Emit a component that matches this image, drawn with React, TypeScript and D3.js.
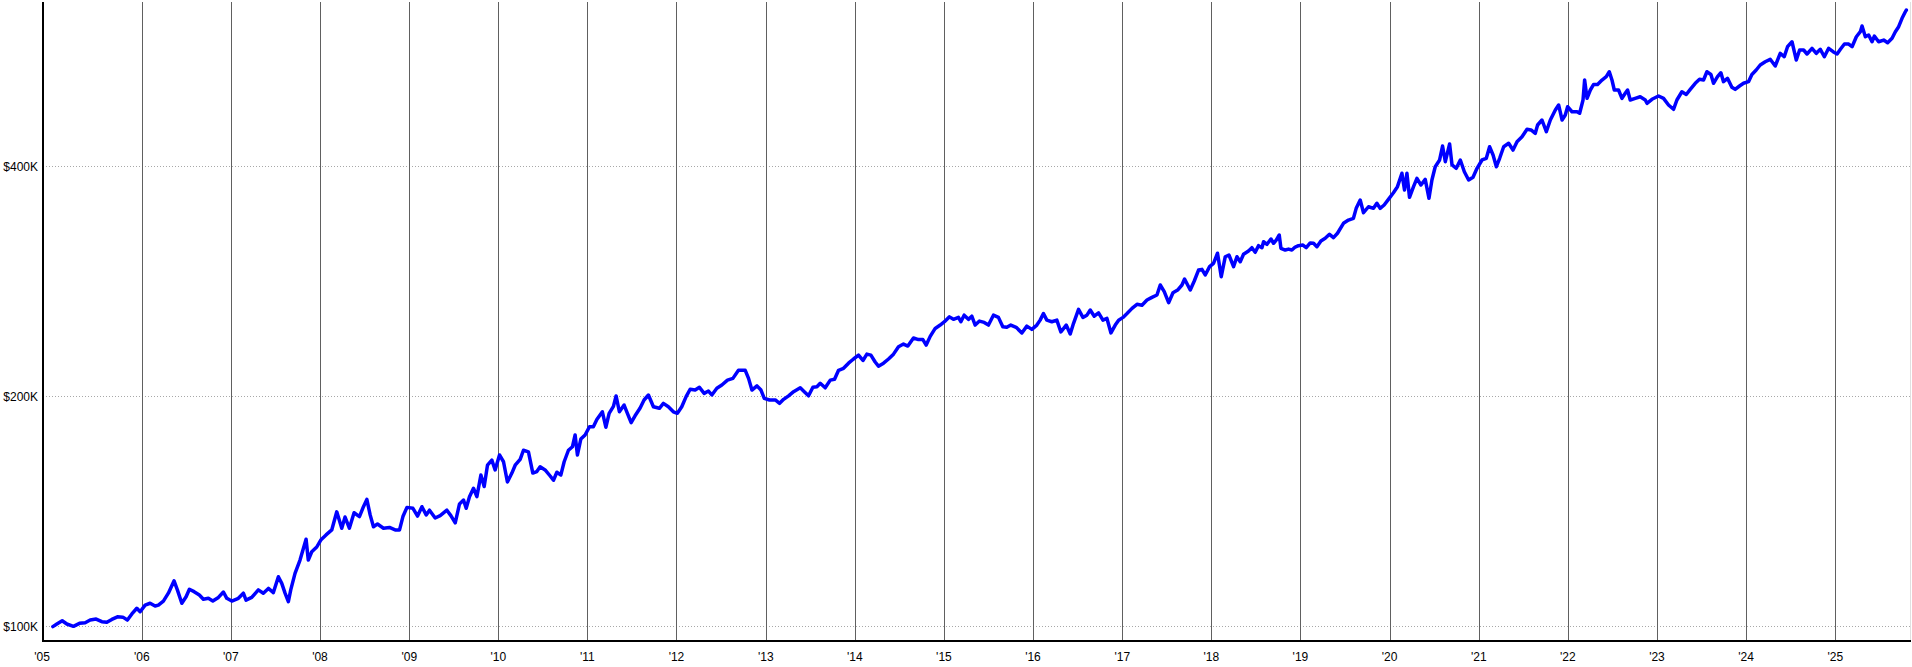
import React from "react";
import * as d3 from "d3";

// Portfolio value over time (decimal years) and value in $K
const decimalYears: number[] = [
  2005.001, 2005.046, 2005.106, 2005.158, 2005.232, 2005.3, 2005.364, 2005.42, 2005.487, 2005.551,
  2005.607, 2005.663, 2005.726, 2005.787, 2005.838, 2005.888, 2005.944, 2005.981, 2006.037, 2006.093,
  2006.149, 2006.186, 2006.242, 2006.298, 2006.362, 2006.399, 2006.449, 2006.497, 2006.534, 2006.587,
  2006.646, 2006.691, 2006.747, 2006.797, 2006.86, 2006.916, 2006.954, 2007.01, 2007.084, 2007.14,
  2007.17, 2007.234, 2007.308, 2007.364, 2007.421, 2007.477, 2007.533, 2007.571, 2007.608, 2007.645,
  2007.672, 2007.72, 2007.776, 2007.844, 2007.869, 2007.908, 2007.964, 2008.009, 2008.068, 2008.132,
  2008.188, 2008.244, 2008.281, 2008.329, 2008.382, 2008.442, 2008.487, 2008.525, 2008.562, 2008.599,
  2008.644, 2008.711, 2008.778, 2008.842, 2008.891, 2008.929, 2008.974, 2009.041, 2009.093, 2009.142,
  2009.19, 2009.227, 2009.291, 2009.347, 2009.422, 2009.467, 2009.516, 2009.564, 2009.609, 2009.639,
  2009.676, 2009.721, 2009.759, 2009.804, 2009.841, 2009.878, 2009.927, 2009.964, 2010.013, 2010.058,
  2010.102, 2010.152, 2010.189, 2010.245, 2010.282, 2010.338, 2010.387, 2010.432, 2010.469, 2010.525,
  2010.582, 2010.619, 2010.657, 2010.702, 2010.739, 2010.787, 2010.832, 2010.862, 2010.888, 2010.926,
  2010.974, 2011.023, 2011.067, 2011.106, 2011.168, 2011.207, 2011.244, 2011.292, 2011.322, 2011.359,
  2011.412, 2011.449, 2011.491, 2011.535, 2011.592, 2011.636, 2011.685, 2011.741, 2011.808, 2011.853,
  2011.909, 2011.965, 2012.01, 2012.059, 2012.108, 2012.153, 2012.209, 2012.257, 2012.31, 2012.358,
  2012.396, 2012.452, 2012.508, 2012.571, 2012.632, 2012.694, 2012.77, 2012.807, 2012.845, 2012.901,
  2012.946, 2012.983, 2013.042, 2013.107, 2013.155, 2013.2, 2013.256, 2013.312, 2013.387, 2013.432,
  2013.48, 2013.529, 2013.574, 2013.611, 2013.667, 2013.724, 2013.772, 2013.817, 2013.873, 2013.929,
  2013.985, 2014.041, 2014.091, 2014.135, 2014.18, 2014.228, 2014.265, 2014.322, 2014.378, 2014.434,
  2014.49, 2014.546, 2014.595, 2014.658, 2014.714, 2014.764, 2014.801, 2014.846, 2014.902, 2014.958,
  2015.006, 2015.062, 2015.107, 2015.163, 2015.19, 2015.227, 2015.275, 2015.313, 2015.351, 2015.399,
  2015.452, 2015.5, 2015.556, 2015.612, 2015.661, 2015.706, 2015.751, 2015.811, 2015.875, 2015.931,
  2015.987, 2016.043, 2016.08, 2016.117, 2016.155, 2016.211, 2016.267, 2016.312, 2016.372, 2016.417,
  2016.454, 2016.51, 2016.559, 2016.604, 2016.641, 2016.686, 2016.734, 2016.783, 2016.828, 2016.873,
  2016.921, 2016.959, 2017.008, 2017.053, 2017.109, 2017.165, 2017.221, 2017.277, 2017.333, 2017.389,
  2017.426, 2017.471, 2017.52, 2017.569, 2017.621, 2017.67, 2017.699, 2017.763, 2017.808, 2017.856,
  2017.894, 2017.931, 2017.98, 2018.024, 2018.069, 2018.111, 2018.156, 2018.197, 2018.212, 2018.249,
  2018.287, 2018.324, 2018.361, 2018.417, 2018.455, 2018.492, 2018.529, 2018.568, 2018.586, 2018.624,
  2018.669, 2018.698, 2018.728, 2018.762, 2018.781, 2018.829, 2018.866, 2018.904, 2018.941, 2018.978,
  2019.028, 2019.065, 2019.11, 2019.147, 2019.185, 2019.23, 2019.278, 2019.326, 2019.371, 2019.416,
  2019.483, 2019.539, 2019.595, 2019.626, 2019.671, 2019.708, 2019.764, 2019.82, 2019.858, 2019.895,
  2019.94, 2019.988, 2020.044, 2020.089, 2020.139, 2020.168, 2020.195, 2020.224, 2020.269, 2020.307,
  2020.352, 2020.4, 2020.442, 2020.475, 2020.512, 2020.561, 2020.594, 2020.625, 2020.673, 2020.7,
  2020.748, 2020.793, 2020.838, 2020.886, 2020.935, 2020.98, 2021.036, 2021.084, 2021.121, 2021.16,
  2021.197, 2021.234, 2021.279, 2021.335, 2021.384, 2021.429, 2021.485, 2021.541, 2021.586, 2021.634,
  2021.66, 2021.709, 2021.758, 2021.803, 2021.859, 2021.896, 2021.935, 2021.971, 2021.997, 2022.046,
  2022.103, 2022.132, 2022.17, 2022.188, 2022.215, 2022.252, 2022.289, 2022.333, 2022.383, 2022.431,
  2022.465, 2022.495, 2022.521, 2022.569, 2022.607, 2022.644, 2022.67, 2022.7, 2022.756, 2022.812,
  2022.869, 2022.888, 2022.944, 2023.018, 2023.074, 2023.13, 2023.186, 2023.224, 2023.28, 2023.329,
  2023.374, 2023.43, 2023.478, 2023.523, 2023.561, 2023.606, 2023.635, 2023.68, 2023.718, 2023.747,
  2023.792, 2023.841, 2023.878, 2023.927, 2023.972, 2024.028, 2024.066, 2024.114, 2024.159, 2024.215,
  2024.271, 2024.327, 2024.383, 2024.428, 2024.465, 2024.515, 2024.563, 2024.6, 2024.645, 2024.683,
  2024.739, 2024.787, 2024.832, 2024.877, 2024.925, 2024.975, 2025.02, 2025.057, 2025.102, 2025.15,
  2025.188, 2025.236, 2025.281, 2025.3, 2025.337, 2025.374, 2025.412, 2025.438, 2025.486, 2025.543,
  2025.587, 2025.637, 2025.674, 2025.711, 2025.749, 2025.786, 2025.797,
];

const valuesK: number[] = [
  99.9, 100.7, 101.7, 100.7, 100.0, 100.9, 101.1, 101.9, 102.2, 101.4,
  101.2, 102.1, 102.9, 102.8, 101.9, 103.8, 105.6, 104.5, 106.6, 107.2,
  106.3, 106.6, 107.9, 110.5, 114.7, 111.6, 107.2, 109.3, 111.8, 111.0,
  109.9, 108.5, 108.8, 107.9, 109.1, 110.9, 108.8, 107.9, 108.8, 110.5,
  108.2, 109.1, 111.6, 110.5, 112.1, 110.7, 116.1, 113.8, 110.5, 107.7,
  111.6, 117.3, 122.1, 130.0, 122.1, 125.2, 127.0, 129.7, 131.7, 133.7,
  141.2, 134.4, 139.0, 134.4, 140.8, 139.2, 143.4, 146.6, 139.9, 135.0,
  136.1, 134.4, 134.7, 133.7, 133.7, 139.2, 143.1, 142.7, 139.4, 143.4,
  139.9, 141.9, 138.6, 139.6, 141.9, 139.6, 136.6, 144.6, 146.3, 142.7,
  147.8, 151.6, 147.8, 157.8, 152.4, 162.5, 165.0, 160.2, 167.6, 164.2,
  154.5, 158.7, 162.5, 165.4, 170.0, 169.2, 158.7, 159.4, 161.7, 160.2,
  157.3, 155.3, 159.1, 157.8, 164.2, 170.0, 171.8, 178.0, 167.6, 175.8,
  178.0, 182.5, 182.5, 186.5, 190.9, 182.2, 190.0, 194.0, 200.2, 190.9,
  194.8, 190.0, 184.7, 188.6, 193.1, 197.8, 200.8, 193.8, 192.9, 195.8,
  193.8, 190.9, 190.0, 193.8, 199.8, 204.3, 203.8, 205.5, 201.8, 203.2,
  200.8, 204.9, 206.9, 210.0, 211.1, 216.3, 216.3, 211.1, 203.8, 206.4,
  203.8, 198.8, 197.8, 197.8, 195.8, 198.2, 200.3, 202.8, 205.2, 202.8,
  200.3, 205.5, 205.9, 208.0, 205.2, 210.0, 210.5, 216.3, 217.6, 221.0,
  223.8, 226.4, 222.8, 227.1, 226.4, 221.8, 219.0, 221.0, 223.8, 227.1,
  232.2, 234.1, 232.7, 238.4, 237.3, 237.3, 233.4, 239.6, 245.4, 247.9,
  250.4, 254.1, 252.2, 253.7, 250.4, 255.4, 252.2, 254.6, 247.9, 250.9,
  249.9, 247.9, 255.4, 253.7, 246.6, 246.2, 247.9, 246.2, 242.1, 247.1,
  244.7, 247.9, 251.6, 256.7, 251.6, 250.4, 251.6, 242.8, 247.9, 241.3,
  249.2, 259.9, 253.7, 255.4, 259.4, 254.6, 257.2, 251.6, 252.9, 242.1,
  247.9, 251.6, 253.7, 256.7, 260.7, 263.9, 263.2, 267.3, 269.5, 271.4,
  279.7, 274.1, 265.2, 273.3, 275.5, 279.7, 284.8, 275.5, 283.1, 292.6,
  293.2, 288.3, 295.6, 298.6, 307.8, 286.8, 304.6, 306.2, 303.2, 295.6,
  304.6, 300.0, 306.8, 309.9, 313.0, 308.7, 314.9, 313.0, 318.7, 316.2,
  321.3, 317.2, 320.3, 325.2, 312.4, 310.8, 311.7, 310.8, 313.6, 314.9,
  315.5, 313.0, 317.5, 317.2, 313.9, 319.4, 322.0, 325.9, 322.6, 326.9,
  336.9, 340.2, 342.0, 352.4, 361.4, 347.8, 354.1, 352.4, 357.8, 352.4,
  356.0, 362.1, 369.4, 376.2, 391.7, 372.4, 391.7, 364.3, 376.2, 385.8,
  378.1, 384.6, 363.2, 383.8, 399.5, 407.7, 425.2, 405.6, 427.8, 401.6,
  397.6, 407.7, 393.5, 383.8, 387.0, 397.6, 407.7, 409.8, 424.3, 413.9,
  399.5, 409.8, 424.3, 428.7, 420.1, 430.8, 437.3, 447.2, 446.3, 441.8,
  453.0, 459.9, 444.0, 459.9, 473.9, 481.2, 459.9, 466.9, 478.7, 471.5,
  471.5, 469.3, 488.5, 518.8, 490.9, 503.4, 511.9, 511.9, 518.8, 524.0,
  531.9, 518.8, 503.4, 503.4, 490.9, 498.4, 503.4, 488.5, 490.9, 493.3,
  488.5, 483.6, 489.5, 494.4, 490.9, 481.2, 475.0, 488.5, 500.8, 496.7,
  504.4, 513.7, 519.9, 518.8, 531.9, 527.6, 513.7, 524.0, 530.3, 516.2,
  521.4, 507.5, 504.4, 509.5, 513.7, 516.2, 527.6, 534.7, 542.8, 548.2,
  552.2, 541.2, 562.2, 556.5, 573.6, 582.2, 551.0, 567.9, 567.9, 561.1,
  570.8, 562.2, 569.1, 556.5, 570.8, 565.0, 561.1, 569.1, 578.2, 578.2,
  573.6, 591.1, 600.1, 610.5, 591.1, 594.1, 582.2, 592.3, 582.2, 585.2,
  580.5, 588.3, 600.1, 609.2, 624.8, 637.3, 640.6,
];

const yTickValuesK: number[] = [100, 200, 400];
const xTickYears: number[] = [
  2006, 2007, 2008, 2009, 2010, 2011, 2012, 2013, 2014, 2015,
  2016, 2017, 2018, 2019, 2020, 2021, 2022, 2023, 2024, 2025,
];
const firstYearLabel = "'05";

const WIDTH = 1912;
const HEIGHT = 667;
const plotLeft = 43;
const plotRight = 1910;
const plotTop = 2;
const plotBottom = 641;

function toDate(t: number): Date {
  const y = Math.floor(t);
  const start = Date.UTC(y, 0, 1);
  const end = Date.UTC(y + 1, 0, 1);
  return new Date(start + (t - y) * (end - start));
}

export default function App() {
  const x = d3
    .scaleUtc()
    .domain([new Date(Date.UTC(2004, 10, 22)), new Date(Date.UTC(2025, 10, 3))])
    .range([plotLeft, plotRight]);
  const y = d3.scaleLog().domain([95.67, 656.3]).range([plotBottom, plotTop]);

  const data = decimalYears.map((t, i) => ({ date: toDate(t), v: valuesK[i] }));
  const line = d3
    .line<{ date: Date; v: number }>()
    .x((d) => x(d.date))
    .y((d) => y(d.v));

  const font = "'Liberation Sans', Arial, sans-serif";

  return (
    <svg
      width={WIDTH}
      height={HEIGHT}
      style={{ position: "absolute", left: 0, top: 0, background: "#fff" }}
    >
      <rect x={0} y={0} width={WIDTH} height={HEIGHT} fill="#fff" />
      {yTickValuesK.map((v) => (
        <line
          key={"hg" + v}
          x1={plotLeft}
          x2={plotRight}
          y1={Math.round(y(v)) + 0.5}
          y2={Math.round(y(v)) + 0.5}
          stroke="#a8a8a8"
          strokeDasharray="1,2"
          strokeWidth={1}
        />
      ))}
      {xTickYears.map((yr) => {
        const px = Math.round(x(new Date(Date.UTC(yr, 0, 1)))) + 0.5;
        return (
          <line
            key={"vg" + yr}
            x1={px}
            x2={px}
            y1={plotTop}
            y2={plotBottom}
            stroke="#606060"
            strokeWidth={1}
          />
        );
      })}
      <line x1={plotRight + 0.5} x2={plotRight + 0.5} y1={plotTop} y2={plotBottom} stroke="#e0e0e0" />
      <path
        d={line(data) || ""}
        fill="none"
        stroke="#0000ff"
        strokeWidth={3.5}
        strokeLinejoin="round"
        strokeLinecap="round"
      />
      <line x1={plotLeft} x2={plotLeft} y1={plotTop} y2={plotBottom + 1} stroke="#000" strokeWidth={2} />
      <line x1={plotLeft} x2={plotRight + 1} y1={plotBottom} y2={plotBottom} stroke="#000" strokeWidth={2} />
      {yTickValuesK.map((v) => (
        <text
          key={"yl" + v}
          x={plotLeft - 5}
          y={y(v) + 4.3}
          textAnchor="end"
          fontFamily={font}
          fontSize={12}
          fill="#000"
        >
          {"$" + v + "K"}
        </text>
      ))}
      <text x={plotLeft - 1} y={661} textAnchor="middle" fontFamily={font} fontSize={12} fill="#000">
        {firstYearLabel}
      </text>
      {xTickYears.map((yr) => (
        <text
          key={"xl" + yr}
          x={x(new Date(Date.UTC(yr, 0, 1)))}
          y={661}
          textAnchor="middle"
          fontFamily={font}
          fontSize={12}
          fill="#000"
        >
          {"'" + String(yr).slice(2)}
        </text>
      ))}
    </svg>
  );
}
